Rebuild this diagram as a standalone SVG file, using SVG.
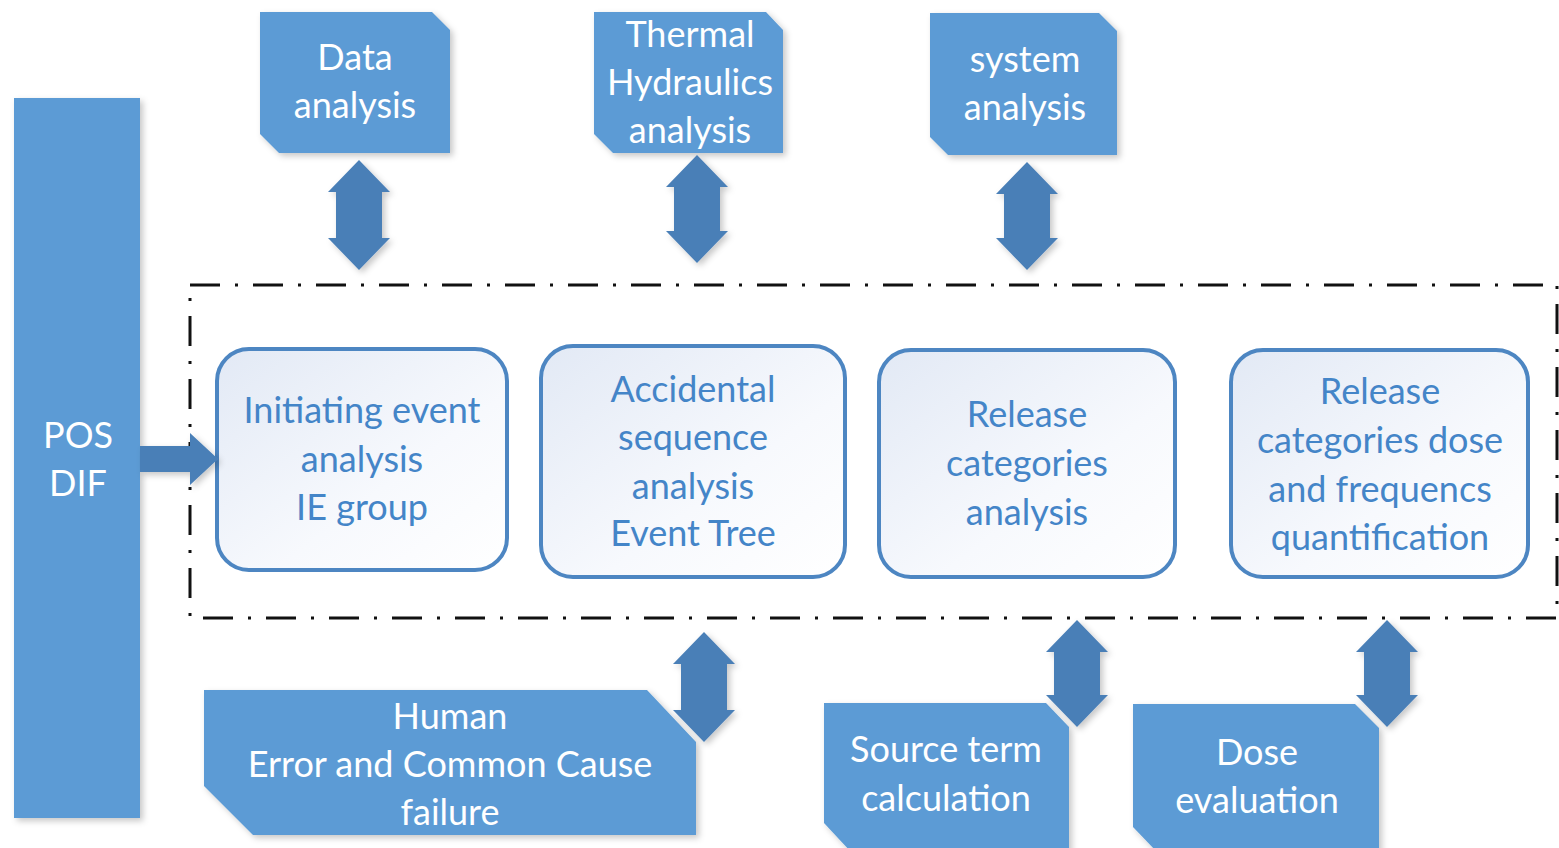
<svg xmlns="http://www.w3.org/2000/svg" width="1559" height="848" viewBox="0 0 1559 848">
<defs>
<linearGradient id="pane" x1="0" y1="0" x2="1" y2="1">
<stop offset="0" stop-color="#e2e9f5"/>
<stop offset="0.6" stop-color="#f7f9fd"/>
<stop offset="1" stop-color="#ffffff"/>
</linearGradient>
<filter id="sh" x="-10%" y="-10%" width="125%" height="125%">
<feDropShadow dx="3" dy="3" stdDeviation="3" flood-color="#000" flood-opacity="0.22"/>
</filter>
</defs>
<style>
.blk{fill:#5b9bd5;filter:url(#sh)}
.arr{fill:#4a7fb7;filter:url(#sh)}
.pane{fill:url(#pane);stroke:#4d86c2;stroke-width:4}
.wt{font-family:Lato,"Liberation Sans",sans-serif;font-size:36px;fill:#ffffff;text-anchor:middle}
.bt{font-family:Lato,"Liberation Sans",sans-serif;font-size:36px;fill:#4485c8;text-anchor:middle}
.frame{fill:none;stroke:#111;stroke-width:3;stroke-dasharray:30 15 3 15}
</style>
<rect class="frame" x="190" y="285" width="1367" height="333"/>
<g id="pos-dif">
<rect class="blk" x="14" y="98" width="126" height="720"/>
<text class="wt" x="78" y="448">POS</text>
<text class="wt" x="78" y="496">DIF</text>
</g>
<g id="data-analysis">
<path class="blk" d="M260 12 L432 12 L450 30 L450 153 L279 153 L260 134 Z"/>
<text class="wt" x="355" y="70">Data</text>
<text class="wt" x="355" y="118">analysis</text>
</g>
<g id="thermal">
<path class="blk" d="M594 12 L766 12 L783 30 L783 153 L613 153 L594 134 Z"/>
<text class="wt" x="690" y="47">Thermal</text>
<text class="wt" x="690" y="95">Hydraulics</text>
<text class="wt" x="690" y="143">analysis</text>
</g>
<g id="system-analysis">
<path class="blk" d="M930 13 L1099 13 L1117 31 L1117 155 L948 155 L930 137 Z"/>
<text class="wt" x="1025" y="72">system</text>
<text class="wt" x="1025" y="120">analysis</text>
</g>
<g id="initiating">
<rect class="pane" x="217" y="349" width="290" height="221" rx="32"/>
<text class="bt" x="362" y="423">Initiating event</text>
<text class="bt" x="362" y="472">analysis</text>
<text class="bt" x="362" y="520">IE group</text>
</g>
<g id="accidental">
<rect class="pane" x="541" y="346" width="304" height="231" rx="32"/>
<text class="bt" x="693" y="402">Accidental</text>
<text class="bt" x="693" y="450">sequence</text>
<text class="bt" x="693" y="499">analysis</text>
<text class="bt" x="693" y="546">Event Tree</text>
</g>
<g id="release-analysis">
<rect class="pane" x="879" y="350" width="296" height="227" rx="32"/>
<text class="bt" x="1027" y="427">Release</text>
<text class="bt" x="1027" y="476">categories</text>
<text class="bt" x="1027" y="525">analysis</text>
</g>
<g id="release-dose">
<rect class="pane" x="1231" y="350" width="297" height="227" rx="32"/>
<text class="bt" x="1380" y="404">Release</text>
<text class="bt" x="1380" y="453">categories dose</text>
<text class="bt" x="1380" y="502">and frequencs</text>
<text class="bt" x="1380" y="550">quantification</text>
</g>
<g id="human-error">
<path class="blk" d="M204 690 L647 690 L696 742 L696 835 L253 835 L204 786 Z"/>
<text class="wt" x="450" y="729">Human</text>
<text class="wt" x="450" y="777">Error and Common Cause</text>
<text class="wt" x="450" y="825">failure</text>
</g>
<g id="source-term">
<path class="blk" d="M824 703 L1046 703 L1069 727 L1069 852 L851 852 L824 823 Z"/>
<text class="wt" x="946" y="762">Source term</text>
<text class="wt" x="946" y="811">calculation</text>
</g>
<g id="dose-evaluation">
<path class="blk" d="M1133 704 L1355 704 L1379 728 L1379 852 L1157 852 L1133 827 Z"/>
<text class="wt" x="1257" y="765">Dose</text>
<text class="wt" x="1257" y="813">evaluation</text>
</g>
<g id="connectors">
<path class="arr" d="M140 446 L190 446 L190 433 L218 459 L190 485 L190 472 L140 472 Z"/>
<path class="arr" d="M359 160 L390 192 L382 192 L382 238 L390 238 L359 270 L328 238 L336 238 L336 192 L328 192 Z"/>
<path class="arr" d="M697 155 L728 187 L720 187 L720 231 L728 231 L697 263 L666 231 L674 231 L674 187 L666 187 Z"/>
<path class="arr" d="M1027 162 L1058 194 L1050 194 L1050 238 L1058 238 L1027 270 L996 238 L1004 238 L1004 194 L996 194 Z"/>
<path class="arr" d="M704 632 L735 664 L727 664 L727 710 L735 710 L704 742 L673 710 L681 710 L681 664 L673 664 Z"/>
<path class="arr" d="M1077 620 L1108 652 L1100 652 L1100 695 L1108 695 L1077 727 L1046 695 L1054 695 L1054 652 L1046 652 Z"/>
<path class="arr" d="M1387 620 L1418 652 L1410 652 L1410 695 L1418 695 L1387 727 L1356 695 L1364 695 L1364 652 L1356 652 Z"/>
</g>
</svg>
